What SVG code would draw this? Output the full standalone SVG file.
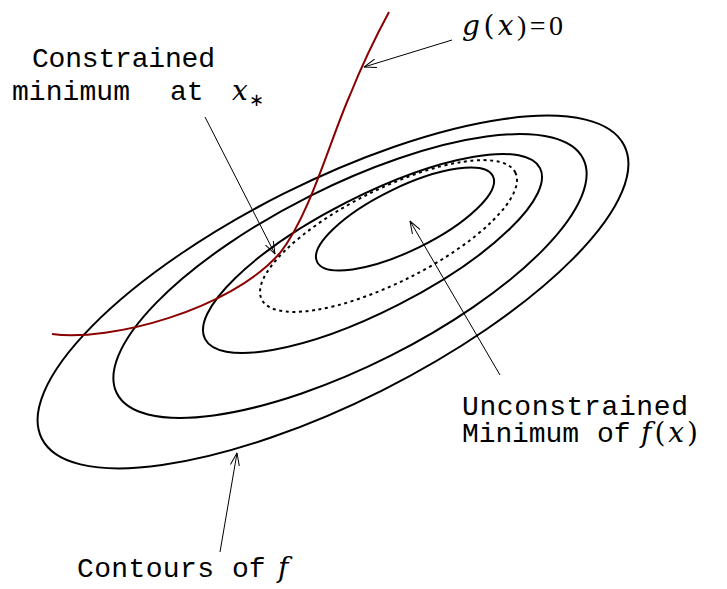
<svg xmlns="http://www.w3.org/2000/svg" width="727" height="589" viewBox="0 0 727 589">
<style>
.c{fill:none;stroke:#000;stroke-width:2}
.d{fill:none;stroke:#000;stroke-width:2;stroke-dasharray:3 3.6}
.a{fill:none;stroke:#000;stroke-width:1;marker-end:url(#arr)}
.t{font-family:"Liberation Mono",monospace;font-size:28px;fill:#000}
.m{font-family:"DejaVu Serif",serif;font-style:italic;font-size:28px;fill:#000}
.r{font-style:normal}
</style>
<defs>
<marker id="arr" viewBox="0 0 13 10" refX="12.5" refY="5" markerWidth="13" markerHeight="10" markerUnits="userSpaceOnUse" orient="auto">
<path d="M0,0.5 L12.5,5 L0,9.5" fill="none" stroke="#000" stroke-width="1"/>
</marker>
</defs>
<rect width="727" height="589" fill="#fff"/>
<g id="contours">
<ellipse id="c1" class="c" cx="333" cy="292" rx="326" ry="110" transform="rotate(-26.7 333 292)"/>
<ellipse id="c2" class="c" cx="350" cy="276" rx="261" ry="89.5" transform="rotate(-26.7 350 276)"/>
<ellipse id="c3" class="c" cx="372.5" cy="253.5" rx="188" ry="57.4" transform="rotate(-27 372.5 253.5)"/>
<ellipse id="c4" class="d" cx="388.5" cy="236" rx="141.8" ry="46.5" transform="rotate(-26.6 388.5 236)"/>
<ellipse id="c5" class="c" cx="405" cy="219" rx="97.8" ry="31.6" transform="rotate(-26 405 219)"/>
</g>
<g id="constraint">
<path d="M52,334 C110,342 230,310 280,253 C310,215 330,140 350,95 C362,65 375,38 389,12" fill="none" stroke="#8b0000" stroke-width="2"/>
</g>
<g id="connectors">
<line class="a" x1="452" y1="40" x2="364" y2="67"/>
<line class="a" x1="205" y1="117" x2="275" y2="254"/>
<line class="a" x1="500" y1="375" x2="410" y2="221"/>
<line class="a" x1="220" y1="552" x2="237" y2="453"/>
</g>
<g id="label-g">
<text class="m" x="462" y="35" font-size="25" textLength="101" lengthAdjust="spacing">g<tspan class="r">(</tspan>x<tspan class="r" font-family="Liberation Serif,serif">)=0</tspan></text>
</g>
<g id="label-constrained">
<text class="t" x="32" y="67" textLength="183" lengthAdjust="spacing">Constrained</text>
<text class="t" x="12" y="100" textLength="118" lengthAdjust="spacing">minimum</text>
<text class="t" x="170" y="100">at</text>
<text class="m" x="232" y="100" font-size="26">x</text>
<text x="249" y="106" font-family="Liberation Serif,serif" font-size="18">∗</text>
</g>
<g id="label-unconstrained">
<text class="t" x="462" y="415" textLength="226" lengthAdjust="spacing">Unconstrained</text>
<text class="t" x="462" y="442" textLength="117" lengthAdjust="spacing">Minimum</text>
<text class="t" x="597" y="442">of</text>
<text class="m" x="641" y="442" font-size="30" letter-spacing="3">f<tspan class="r">(</tspan>x<tspan class="r">)</tspan></text>
</g>
<g id="label-contours">
<text class="t" x="77" y="577" textLength="137" lengthAdjust="spacing">Contours</text>
<text class="t" x="232" y="577">of</text>
<text class="m" x="278" y="577">f</text>
</g>
</svg>
